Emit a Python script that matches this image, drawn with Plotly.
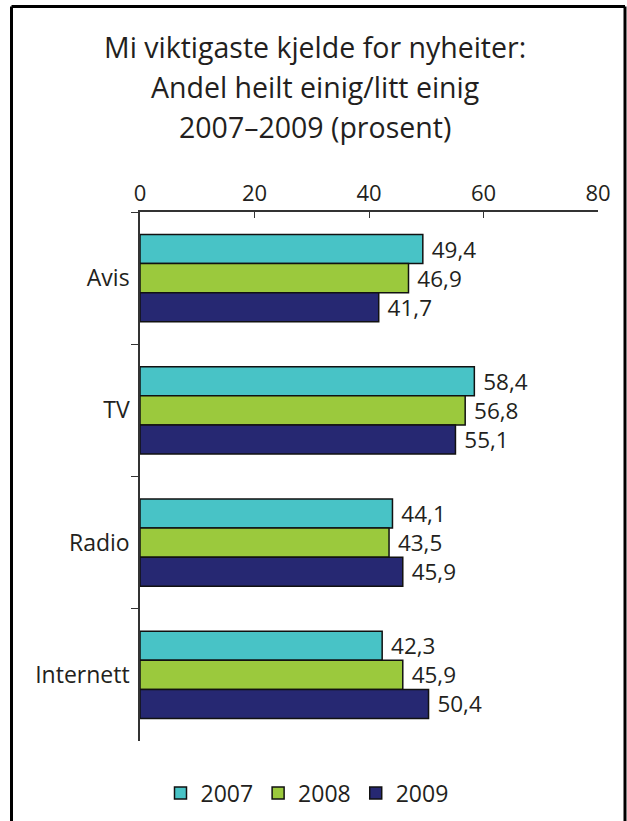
import plotly.graph_objects as go

categories = ["Avis", "TV", "Radio", "Internett"]
years = ["2007", "2008", "2009"]
values_2007 = [49.4, 58.4, 44.1, 42.3]
values_2008 = [46.9, 56.8, 43.5, 45.9]
values_2009 = [41.7, 55.1, 45.9, 50.4]
series = [values_2007, values_2008, values_2009]
colors = ["#48c3c6", "#9bc93d", "#262872"]
x_ticks = [0, 20, 40, 60, 80]
title_lines = ["Mi viktigaste kjelde for nyheiter:", "Andel heilt einig/litt einig", "2007–2009 (prosent)"]

FONT = "Open Sans"
TXT = "#231f20"

fig = go.Figure()
for name, vals, col in zip(years, series, colors):
    fig.add_trace(go.Bar(
        y=categories, x=vals, name=name, orientation="h",
        marker=dict(color=col, line=dict(color="#111111", width=1.5)),
        text=["\u00a0" + f"{v:.1f}".replace(".", ",") for v in vals],
        textposition="outside", constraintext="none", cliponaxis=False,
        textfont=dict(size=22.5, color=TXT, family=FONT),
    ))

W, H = 627, 821
L, R, T, B = 140, 29, 212, 80
pw, ph = W - L - R, H - T - B


def px_x(x):
    return (x - L) / pw


def px_y(y):
    return (H - B - y) / ph


annotations = []
for i, line in enumerate(title_lines):
    annotations.append(dict(
        text=line, xref="paper", yref="paper", x=px_x(315), y=px_y(47 + 40 * i),
        xanchor="center", yanchor="middle", showarrow=False,
        font=dict(size=28.5, family=FONT, color=TXT),
    ))

fig.update_layout(
    width=W, height=H,
    margin=dict(l=L, r=R, t=T, b=B, autoexpand=False),
    paper_bgcolor="white", plot_bgcolor="white",
    font=dict(family=FONT, color=TXT, size=22),
    barmode="group", bargap=0.34, bargroupgap=0,
    xaxis=dict(
        side="top", range=[0, 80], tickvals=x_ticks, ticks="inside", ticklen=6,
        tickcolor="#333", showline=True, linecolor="#333", linewidth=1.5,
        showgrid=False, zeroline=False, tickfont=dict(size=22), automargin=False,
    ),
    yaxis=dict(
        autorange="reversed", ticks="outside", tickson="boundaries", ticklen=7,
        tickcolor="#333", showline=True, linecolor="#333", linewidth=1.5,
        showgrid=False, tickfont=dict(size=23), ticklabelstandoff=4, automargin=False,
    ),
    legend=dict(
        orientation="h", xref="container", x=307 / W, xanchor="center",
        yref="container", y=(H - 793) / H, yanchor="middle",
        font=dict(size=23), itemwidth=30, traceorder="normal",
    ),
    annotations=annotations,
    shapes=[
        dict(type="line", xref="paper", yref="paper",
             x0=px_x(11.5), x1=px_x(11.5), y0=px_y(6.5), y1=px_y(830), line=dict(color="black", width=3)),
        dict(type="line", xref="paper", yref="paper",
             x0=px_x(11.5), x1=px_x(625), y0=px_y(6.5), y1=px_y(6.5), line=dict(color="black", width=3)),
        dict(type="line", xref="paper", yref="paper",
             x0=px_x(625), x1=px_x(625), y0=px_y(6.5), y1=px_y(830), line=dict(color="black", width=3)),
    ],
)

fig.write_html(
    "out.html",
    config={"displayModeBar": False},
    post_script="document.body.style.margin='0';document.body.style.overflow='hidden';",
)
